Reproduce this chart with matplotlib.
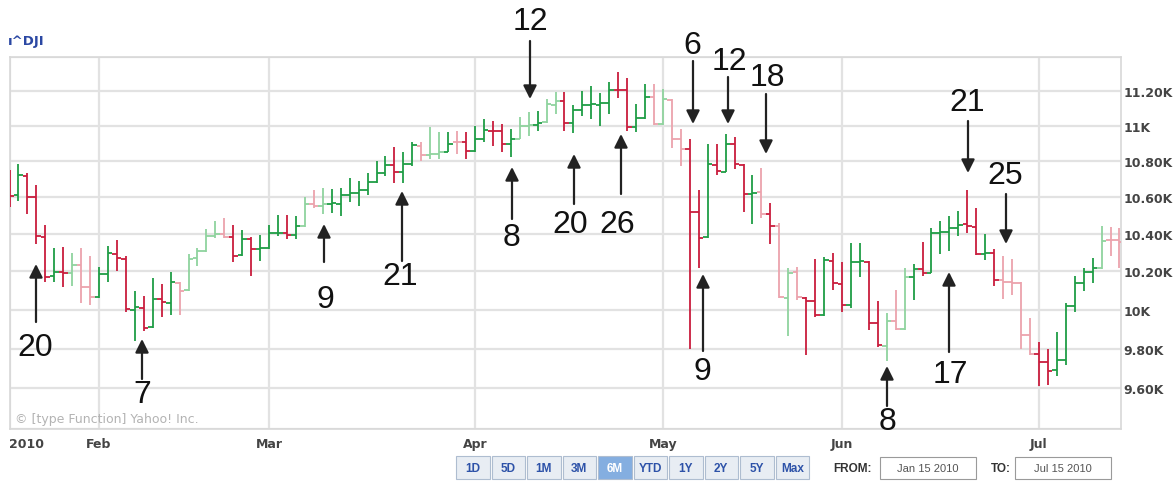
import matplotlib.pyplot as plt
import numpy as np
import pandas as pd
from matplotlib.patches import Rectangle
from matplotlib.ticker import NullLocator

plt.rcParams['font.family'] = ['DejaVu Sans']

# trading days Jan 15 - Jul 15 2010 (US market holidays removed)
days = pd.bdate_range('2010-01-15', '2010-07-15')
days = days.drop(pd.to_datetime(['2010-01-18', '2010-02-15', '2010-04-02', '2010-05-31', '2010-07-05']))

opens = [10706, 10610, 10720, 10600, 10385, 10175, 10198, 10190, 10236, 10120,
         10068, 10186, 10295, 10268, 10000, 10010, 9910, 10056, 10036, 10140,
         10100, 10270, 10310, 10390, 10400, 10383, 10285, 10372, 10320, 10325,
         10404, 10406, 10396, 10445, 10566, 10550, 10564, 10566, 10612, 10624,
         10642, 10687, 10733, 10780, 10740, 10786, 10888, 10837, 10841, 10851,
         10910, 10907, 10857, 10927, 10972, 10968, 10896, 10928, 10997, 11005,
         11020, 11120, 11145, 11018, 11092, 11118, 11120, 11130, 11206, 11205,
         10993, 11046, 11168, 11009, 11150, 10925, 10868, 10520, 10386, 10780,
         10742, 10897, 10780, 10620, 10628, 10510, 10444, 10060, 10195, 10060,
         10045, 9975, 10258, 10136, 10025, 10250, 10252, 9930, 9815, 9940,
         9900, 10170, 10212, 10192, 10404, 10410, 10433, 10452, 10440, 10293,
         10298, 10155, 10145, 10138, 9870, 9773, 9732, 9690, 9744, 10020,
         10140, 10198, 10218, 10370, 10366]
highs = [10750, 10782, 10732, 10666, 10448, 10327, 10332, 10300, 10327, 10280,
         10226, 10338, 10370, 10280, 10095, 10069, 10168, 10132, 10195, 10147,
         10295, 10327, 10427, 10470, 10486, 10448, 10421, 10386, 10397, 10448,
         10502, 10502, 10497, 10600, 10639, 10650, 10644, 10650, 10705, 10688,
         10732, 10800, 10832, 10882, 10854, 10910, 10910, 10994, 10966, 10966,
         10972, 10966, 11000, 11040, 11030, 11011, 10983, 11051, 11080, 11085,
         11154, 11195, 11195, 11118, 11198, 11230, 11190, 11253, 11314, 11275,
         11125, 11239, 11239, 11210, 11154, 10983, 10927, 10639, 10899, 10899,
         10955, 10938, 10787, 10721, 10760, 10568, 10459, 10221, 10226, 10064,
         10268, 10278, 10300, 10252, 10354, 10354, 10255, 10043, 9981, 10100,
         10221, 10242, 10359, 10432, 10470, 10497, 10524, 10639, 10540, 10400,
         10322, 10280, 10268, 10142, 9955, 9836, 9800, 9884, 10033, 10174,
         10221, 10274, 10443, 10437, 10432]
lows = [10545, 10578, 10508, 10348, 10147, 10147, 10116, 10126, 10033, 10022,
        10060, 10147, 10200, 9990, 9838, 9889, 9905, 9960, 9975, 9970,
        10095, 10231, 10305, 10380, 10380, 10252, 10280, 10174, 10258, 10320,
        10391, 10375, 10375, 10440, 10540, 10508, 10513, 10497, 10573, 10551,
        10611, 10680, 10716, 10677, 10677, 10771, 10800, 10815, 10815, 10850,
        10843, 10815, 10850, 10910, 10888, 10854, 10826, 10925, 10944, 10972,
        11015, 11068, 10972, 10960, 11057, 11040, 11000, 11068, 11160, 10972,
        10963, 11040, 11005, 11005, 10877, 10771, 9800, 10221, 10380, 10721,
        10740, 10754, 10520, 10453, 10486, 10348, 10059, 9865, 10048, 9767,
        9960, 9965, 10100, 9990, 10010, 10170, 9894, 9810, 9735, 9895,
        9895, 10048, 10175, 10190, 10295, 10310, 10391, 10405, 10290, 10262,
        10126, 10054, 10075, 9800, 9767, 9610, 9615, 9660, 9715, 9990,
        10095, 10137, 10215, 10280, 10216]
closes = [10609, 10725, 10603, 10389, 10172, 10196, 10194, 10236, 10120, 10067,
          10185, 10296, 10270, 10002, 10012, 9908, 10058, 10038, 10144, 10099,
          10268, 10309, 10392, 10402, 10383, 10282, 10374, 10321, 10325, 10404,
          10406, 10397, 10444, 10566, 10553, 10564, 10568, 10612, 10625, 10642,
          10686, 10734, 10779, 10742, 10786, 10889, 10836, 10841, 10850, 10896,
          10907, 10857, 10927, 10974, 10970, 10898, 10927, 10997, 11006, 11019,
          11123, 11145, 11019, 11092, 11117, 11125, 11134, 11204, 11205, 10992,
          11045, 11167, 11009, 11152, 10927, 10868, 10520, 10380, 10785, 10748,
          10897, 10783, 10620, 10626, 10511, 10444, 10068, 10193, 10067, 10044,
          9974, 10259, 10137, 10024, 10250, 10255, 9932, 9816, 9940, 9899,
          10173, 10211, 10191, 10405, 10409, 10434, 10450, 10442, 10294, 10298,
          10153, 10144, 10139, 9870, 9774, 9733, 9686, 9744, 10018, 10139,
          10198, 10216, 10363, 10367, 10359]
# 1 = drawn in the pale shade
pale = [0, 0, 0, 0, 0, 0, 0, 1, 1, 1,
        0, 0, 0, 0, 0, 0, 0, 0, 0, 1,
        1, 1, 1, 1, 1, 0, 0, 0, 0, 0,
        0, 0, 0, 1, 1, 1, 0, 0, 0, 0,
        0, 0, 0, 0, 0, 0, 1, 1, 1, 0,
        1, 0, 0, 0, 0, 0, 0, 1, 1, 0,
        1, 1, 0, 0, 0, 0, 0, 0, 0, 0,
        0, 0, 1, 1, 1, 1, 0, 0, 0, 0,
        0, 0, 0, 0, 1, 0, 1, 1, 1, 0,
        0, 0, 0, 0, 0, 0, 0, 0, 1, 1,
        1, 0, 0, 0, 0, 0, 0, 0, 0, 0,
        0, 1, 1, 1, 1, 0, 0, 0, 0, 0,
        0, 0, 1, 1, 1]

y_levels = [9400, 9600, 9800, 10000, 10200, 10400, 10600, 10800, 11000, 11200, 11400]
y_labels = ['', '9.60K', '9.80K', '10K', '10.20K', '10.40K', '10.60K', '10.80K', '11K', '11.20K', '']
month_names = ['2010', 'Feb', 'Mar', 'Apr', 'May', 'Jun', 'Jul']

# (label, text x, text y, arrow x, arrow tail y, arrow tip y) in pixels
notes = [('12', 530, 22, 530, 42, 100), ('6', 692, 46, 693, 62, 125),
         ('12', 729, 62, 728, 78, 125), ('18', 767, 78, 766, 95, 155),
         ('21', 967, 103, 968, 122, 174), ('25', 1005, 176, 1006, 195, 245),
         ('20', 35, 348, 36, 323, 265), ('7', 142, 395, 142, 380, 340),
         ('9', 325, 300, 324, 263, 225), ('21', 400, 277, 402, 262, 192),
         ('8', 512, 238, 512, 220, 168), ('20', 570, 225, 574, 205, 155),
         ('26', 617, 225, 621, 195, 135), ('9', 702, 372, 703, 352, 275),
         ('8', 887, 422, 887, 407, 367), ('17', 950, 375, 949, 353, 273)]

buttons = ['1D', '5D', '1M', '3M', '6M', 'YTD', '1Y', '2Y', '5Y', 'Max']

W, H = 1176, 489
fig = plt.figure(figsize=(W / 100, H / 100), dpi=100)
ax = fig.add_axes([9.5 / W, 1 - 430 / H, (1121 - 9.5) / W, (430 - 58) / H])

x = np.arange(len(days))
o = np.array(opens); c = np.array(closes)
cols = []
for i in range(len(x)):
    if c[i] >= o[i]:
        cols.append('#8fd39e' if pale[i] else '#1f9d45')
    else:
        cols.append('#eca3ad' if pale[i] else '#c91d3d')
ax.vlines(x, lows, highs, colors=cols, lw=1.3, zorder=3)
ax.hlines(o, x - 0.5, x, colors=cols, lw=1.3, zorder=3)
ax.hlines(c, x, x + 0.5, colors=cols, lw=1.3, zorder=3)

ax.set_yscale('log')
ax.set_ylim(9400, 11400)
ax.set_xlim(0, 124.17)
ax.yaxis.set_minor_locator(NullLocator())
ax.set_yticks(y_levels)
ax.set_yticklabels(y_labels)
ax.yaxis.tick_right()

month_idx = [0] + [i for i in range(1, len(days)) if days[i].month != days[i - 1].month]
ax.set_xticks(month_idx)
ax.set_xticklabels(month_names)
ax.get_xticklabels()[0].set_horizontalalignment('left')
ax.tick_params(axis='both', length=0, labelsize=9, labelcolor='#444444')
ax.tick_params(axis='y', pad=2)
ax.tick_params(axis='x', pad=6)
for lbl in ax.get_xticklabels() + ax.get_yticklabels():
    lbl.set_fontweight('bold')
ax.grid(True, color='#e2e2e2', lw=1.6, zorder=0)
for s in ax.spines.values():
    s.set_color('#d8d8d8')
    s.set_linewidth(1.2)

# overlay in pixel coordinates for the page furniture and notes
ov = fig.add_axes([0, 0, 1, 1], zorder=5)
ov.set_xlim(0, W)
ov.set_ylim(H, 0)
ov.axis('off')

ov.text(8, 42, 'ı^DJI', color='#2b48a3', fontsize=9.5, fontweight='bold', va='center', ha='left')
ov.text(15, 420, '© [type Function] Yahoo! Inc.', color='#b3b3b3', fontsize=9, va='center', ha='left')

for lab, tx, ty, axx, y0, y1 in notes:
    ov.text(tx, ty, lab, fontsize=23, family='Liberation Sans', ha='center', va='center', color='#111111')
    ov.annotate('', xy=(axx, y1), xytext=(axx, y0),
                arrowprops=dict(arrowstyle='-|>', color='#222222', lw=1.6,
                                mutation_scale=20, shrinkA=0, shrinkB=0))

bx0, bw, by, bh = 455, 35.5, 457, 23
for k, b in enumerate(buttons):
    sel = b == '6M'
    ov.add_patch(Rectangle((bx0 + k * bw + 1, by), bw - 2, bh,
                           facecolor='#84aee0' if sel else '#e8edf3',
                           edgecolor='#aebdd0', lw=0.8))
    ov.text(bx0 + k * bw + bw / 2, by + bh / 2 + 0.5, b, fontsize=8.5, fontweight='bold',
            family='Liberation Sans', color='white' if sel else '#2d52a8', ha='center', va='center')

ov.text(853, 469, 'FROM:', fontsize=8.5, fontweight='bold', family='Liberation Sans',
        color='#333333', ha='center', va='center')
ov.add_patch(Rectangle((880, 458), 96, 22, facecolor='white', edgecolor='#9a9a9a', lw=0.8))
ov.text(928, 469, 'Jan 15 2010', fontsize=8, color='#555555', family='Liberation Sans', ha='center', va='center')
ov.text(1001, 469, 'TO:', fontsize=8.5, fontweight='bold', family='Liberation Sans',
        color='#333333', ha='center', va='center')
ov.add_patch(Rectangle((1015, 458), 96, 22, facecolor='white', edgecolor='#9a9a9a', lw=0.8))
ov.text(1063, 469, 'Jul 15 2010', fontsize=8, color='#555555', family='Liberation Sans', ha='center', va='center')

fig.savefig('out.png', dpi=100)
